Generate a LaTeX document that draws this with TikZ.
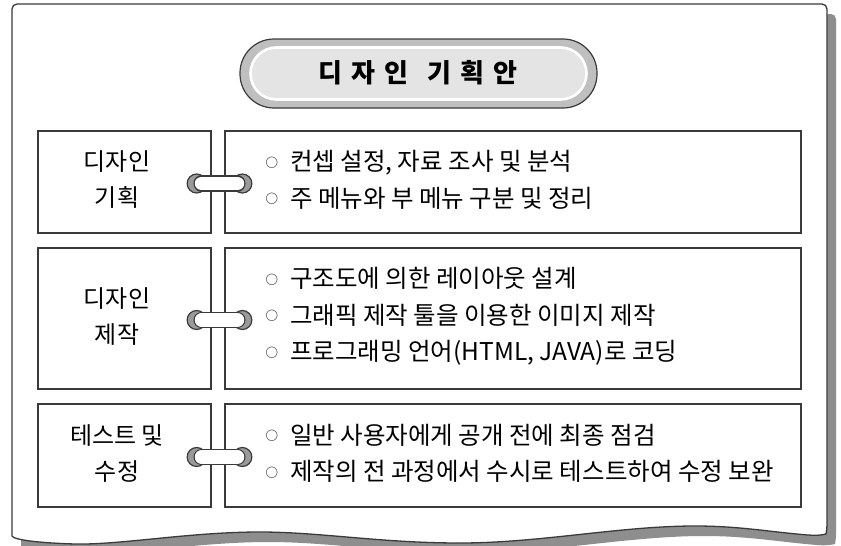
\documentclass[tikz,border=0pt]{standalone}
\usepackage{fontspec}
\newfontfamily\kr[WordSpace=2.1]{Noto Sans CJK KR}
\newfontfamily\krt{Noto Sans CJK KR}
\usetikzlibrary{calc}
\definecolor{linec}{HTML}{3A3A3A}
\definecolor{shadowc}{HTML}{8E8E8E}
\definecolor{pillout}{HTML}{BFBFBF}
\definecolor{pillin}{HTML}{E4E4E4}
\definecolor{ringc}{HTML}{9A9A9A}
\newcommand\bul{\raisebox{3.5pt}{\fontsize{12.5}{12}\selectfont ○}\hspace{12pt}}
\newcommand\hs{\hspace{9pt}}
\def\pagepath{{[rounded corners=5pt] (12,536) -- (12,4) -- (827,4) -- (827,529)}
  .. controls (826,534) and (820,536) .. (808,535)
  .. controls (770,532) and (740,526) .. (695,526)
  .. controls (620,526) and (540,543) .. (460,543)
  .. controls (380,543) and (320,532) .. (260,532)
  .. controls (190,532) and (120,545) .. (75,544)
  .. controls (40,543) and (14,540) .. (12,536) -- cycle}
\begin{document}
\begin{tikzpicture}[x=1pt,y=-1pt,
  box/.style={draw=linec, line width=1.3pt, fill=white, inner sep=0pt},
  ltext/.style={font=\kr\fontsize{24}{36}\selectfont, align=center, inner sep=0pt},
  rtext/.style={font=\kr\fontsize{24.5}{36.5}\selectfont, align=left, inner sep=0pt, anchor=west},
  ringcirc/.style={draw=linec, line width=1.2pt, fill=ringc},
]
\useasboundingbox (0,0) rectangle (841,546);
\fill[white] (0,0) rectangle (841,546);
% page with shadow
\fill[shadowc, shift={(9,10)}] \pagepath;
\draw[linec, line width=1.3pt, fill=white] \pagepath;
% title pill
\node[draw=linec, line width=1.2pt, fill=pillout, rounded corners=34pt,
  minimum width=357pt, minimum height=69pt, inner sep=0pt] (pill) at (418.5,73.5) {};
\node[draw=white, line width=2.6pt, fill=pillin, rounded corners=26pt,
  minimum width=336pt, minimum height=52pt, inner sep=0pt] (pillin) at (pill.center) {};
\node[font=\krt\bfseries\fontsize{26}{26}\selectfont, inner sep=0pt] (title) at (418,73)
  {디\hs 자\hs 인\hspace{19pt}기\hs 획\hs 안};
% boxes
\node[box, minimum width=173pt, minimum height=102pt] (L1) at (124.5,182) {};
\node[box, minimum width=576pt, minimum height=102pt] (R1) at (513,182) {};
\node[box, minimum width=173pt, minimum height=141pt] (L2) at (124.5,318.5) {};
\node[box, minimum width=576pt, minimum height=141pt] (R2) at (513,318.5) {};
\node[box, minimum width=173pt, minimum height=103pt] (L3) at (124.5,455.5) {};
\node[box, minimum width=576pt, minimum height=103pt] (R3) at (513,455.5) {};
% left texts
\node[ltext] (t1) at ($(L1.center)+(-7.5,-2)$) {디자인\\기획};
\node[ltext] (t2) at ($(L2.center)+(-7.5,-2)$) {디자인\\제작};
\node[ltext] (t3) at ($(L3.center)+(-7.5,-2)$) {테스트 및\\수정};
% right texts
\node[rtext] (s1) at ($(R1.west)+(41,-2)$)
  {\bul 컨셉 설정, 자료 조사 및 분석\\\bul 주 메뉴와 부 메뉴 구분 및 정리};
\node[rtext] (s2) at ($(R2.west)+(41,-2)$)
  {\bul 구조도에 의한 레이아웃 설계\\\bul 그래픽 제작 툴을 이용한 이미지 제작\\\bul 프로그래밍 언어(HTML, JAVA)로 코딩};
\node[rtext] (s3) at ($(R3.west)+(41,-2)$)
  {\bul 일반 사용자에게 공개 전에 최종 점검\\\bul 제작의 전 과정에서 수시로 테스트하여 수정 보완};
% binder rings
\foreach \i in {1,2,3}{
  \coordinate (a\i) at ($(L\i.east)+(-15,1.5)$);
  \coordinate (b\i) at ($(R\i.west)+(18,1.5)$);
  \draw[ringcirc] (a\i) circle (9.5pt);
  \draw[ringcirc] (b\i) circle (9.5pt);
  \draw[line width=16.4pt, linec, line cap=round] ($(a\i)+(5,0)$) -- ($(b\i)+(-5,0)$);
  \draw[line width=13.8pt, white, line cap=round] ($(a\i)+(5,0)$) -- ($(b\i)+(-5,0)$);
}
\end{tikzpicture}
\end{document}
